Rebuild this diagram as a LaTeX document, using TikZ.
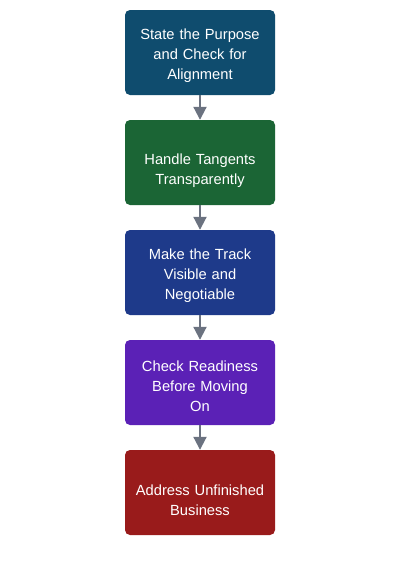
\documentclass[tikz,border=0pt]{standalone}
\usepackage{fontspec}
\setmainfont{Liberation Sans}
\usetikzlibrary{arrows.meta}
\definecolor{purposeblue}{HTML}{0F4C6E}
\definecolor{tangentgreen}{HTML}{1B6535}
\definecolor{trackblue}{HTML}{1E3A8A}
\definecolor{readypurple}{HTML}{5B21B6}
\definecolor{businessred}{HTML}{991B1B}
\definecolor{flowgray}{HTML}{6B7280}
\begin{document}
\begin{tikzpicture}[x=1pt,y=-1pt,
    stage/.style={rectangle, rounded corners=5pt, minimum width=150pt, minimum height=85pt,
      inner sep=0pt, text width=144pt, align=center, text=white,
      font=\fontsize{14.7}{20}\selectfont},
    drop/.style={execute at begin node={\rule{0pt}{#1}}},
    flow/.style={-{Triangle[width=13pt,length=13pt]}, line width=2pt, draw=flowgray}]
   \useasboundingbox (0,0) rectangle (400,570);
   \fill[white] (0,0) rectangle (400,570);
   \node[stage, drop=17.5pt, fill=purposeblue] (purpose) at (200,52.5) {State the Purpose\\and Check for\\Alignment};
   \node[stage, drop=26.5pt, fill=tangentgreen] (tangents) at (200,162.5) {Handle Tangents\\Transparently};
   \node[stage, drop=17.5pt, fill=trackblue] (track) at (200,272.5) {Make the Track\\Visible and\\Negotiable};
   \node[stage, drop=17.5pt, fill=readypurple] (ready) at (200,382.5) {Check Readiness\\Before Moving\\On};
   \node[stage, drop=26.5pt, fill=businessred] (business) at (200,492.5) {Address Unfinished\\Business};
   \draw[flow] (purpose) -- (tangents);
   \draw[flow] (tangents) -- (track);
   \draw[flow] (track) -- (ready);
   \draw[flow] (ready) -- (business);
\end{tikzpicture}
\end{document}
